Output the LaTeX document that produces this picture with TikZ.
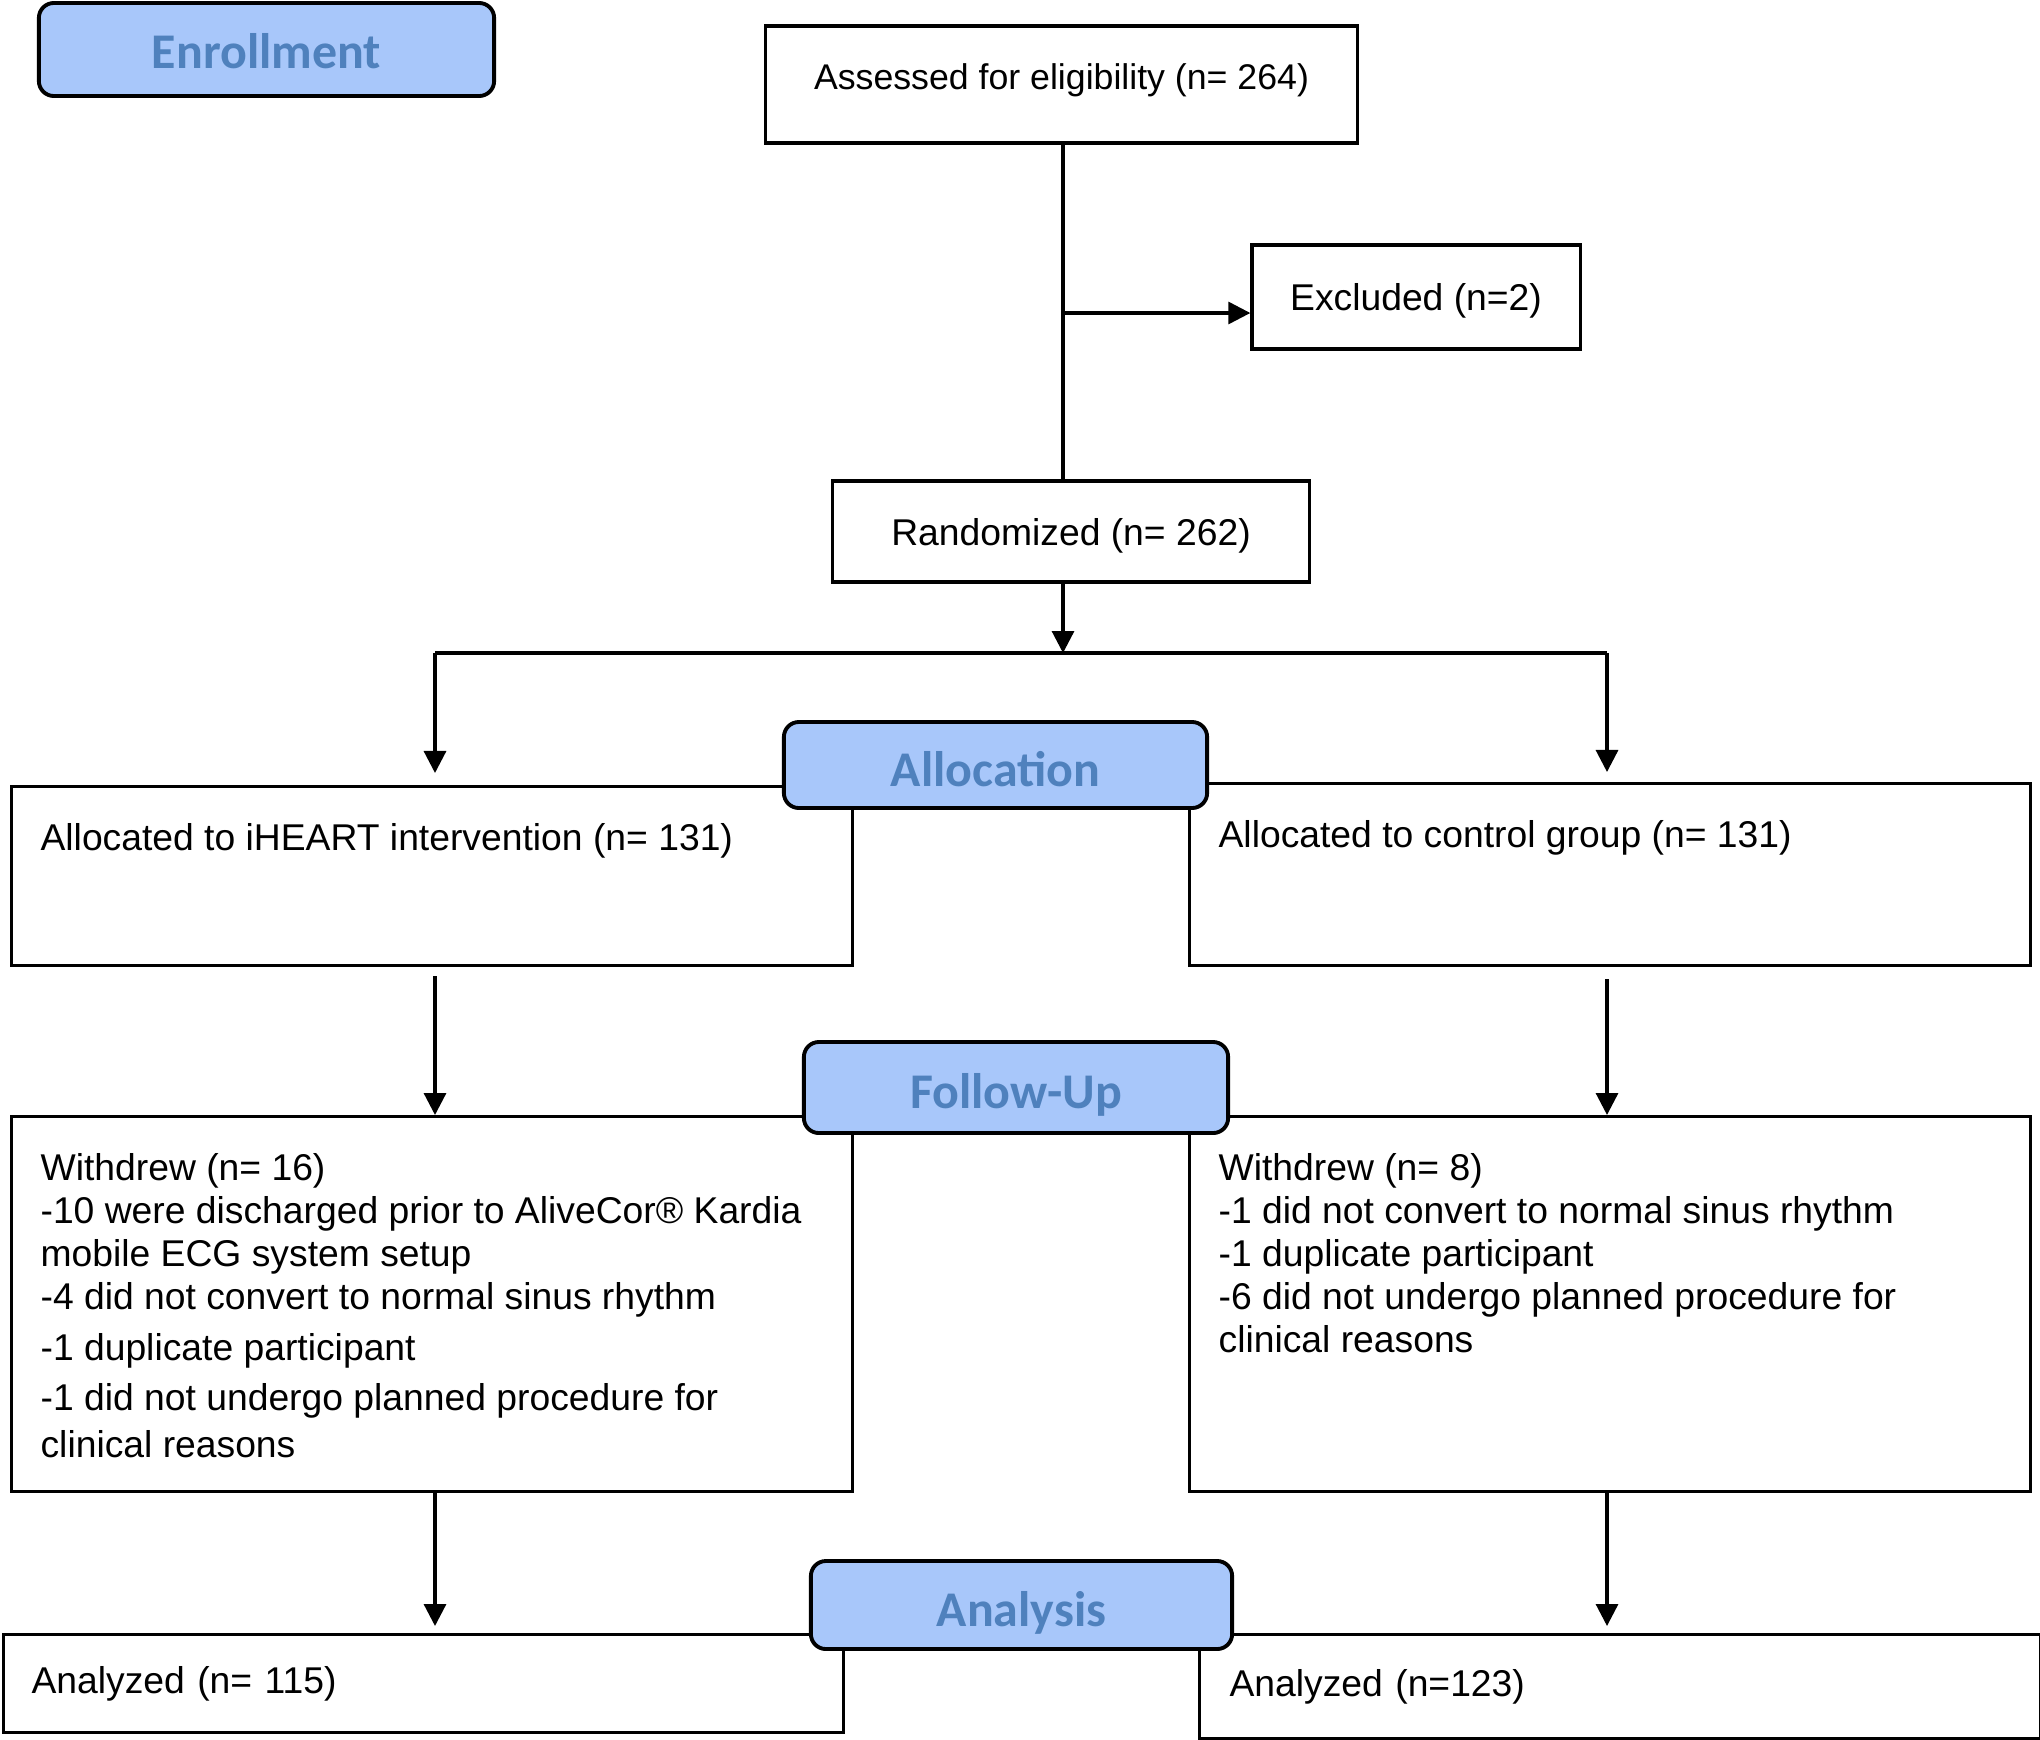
\documentclass[tikz,border=0pt]{standalone}
\usepackage{fontspec}
\setmainfont{Liberation Sans}
\newfontfamily\phasefamily{Carlito}
\usetikzlibrary{arrows.meta}
\definecolor{phasefill}{RGB}{168,199,250}
\definecolor{phasetext}{RGB}{79,129,189}
\newcommand{\toptext}[2]{\parbox[t][#1][t]{7.82cm}{\raggedright\strut #2}}

\begin{document}
\begin{tikzpicture}[x=0.01cm,y=-0.01cm,
  box/.style={draw,line width=0.9pt,inner sep=0pt,font=\fontsize{10.6}{12.2}\selectfont},
  topbox/.style={box,anchor=north west,inner xsep=0.29cm,inner ysep=0.34cm},
  phase/.style={draw,line width=1.1pt,rounded corners=0.15cm,fill=phasefill,text=phasetext,
    text height=0.42cm,text depth=0cm,font=\phasefamily\bfseries\fontsize{14.2}{16}\selectfont},
  arr/.style={line width=0.9pt,-{Triangle[length=0.22cm,width=0.22cm]}}]

  \useasboundingbox (0,0) rectangle (2040,1739);

  \node[box,minimum width=5.91cm,minimum height=1.17cm,text depth=0.15cm,font=\fontsize{10.15}{12}\selectfont] (assess) at (1061.5,84.5) {Assessed for eligibility (n= 264)};
  \node[box,minimum width=3.28cm,minimum height=1.04cm,text depth=0cm] (excl) at (1416,297) {Excluded (n=2)};
  \node[box,minimum width=4.76cm,minimum height=1.01cm,text depth=0cm] (rand) at (1071,531.5) {Randomized (n= 262)};

  \node[topbox] (allocL) at (10,785) {\toptext{1.11cm}{Allocated to iHEART intervention (n= 131)}};
  \node[topbox] (allocR) at (1188,782) {\toptext{1.14cm}{Allocated to control group (n= 131)}};

  \node[topbox] (followL) at (10,1115) {\toptext{3.07cm}{Withdrew (n= 16)\\
    -10 were discharged prior to AliveCor® Kardia\\
    mobile ECG system setup\\
    -4 did not convert to normal sinus rhythm\\[0.08cm]
    -1 duplicate participant\\[0.07cm]
    -1 did not undergo planned procedure for\\[0.04cm]
    clinical reasons}};
  \node[topbox] (followR) at (1188,1115) {\toptext{3.07cm}{Withdrew (n= 8)\\
    -1 did not convert to normal sinus rhythm\\
    -1 duplicate participant\\
    -6 did not undergo planned procedure for\\
    clinical reasons}};

  \node[box,anchor=north west,minimum height=0.98cm,text width=7.83cm,align=left,inner xsep=0.28cm] (anaL) at (2,1633) {Analyzed (n= 115)};
  \node[box,anchor=north west,minimum height=1.04cm,text width=7.80cm,align=left,inner xsep=0.30cm] (anaR) at (1198,1633) {Analyzed (n=123)};

  % phase labels
  \node[phase,minimum width=4.55cm,minimum height=0.93cm,text height=0.37cm] (enrol) at (266.5,49.5) {Enrollment};
  \node[phase,minimum width=4.23cm,minimum height=0.86cm] (alloc) at (995.5,765) {Allocation};
  \node[phase,minimum width=4.24cm,minimum height=0.91cm] (follow) at (1016,1087.5) {Follow-Up};
  \node[phase,minimum width=4.21cm,minimum height=0.88cm] (analysis) at (1021.5,1605) {Analysis};

  \coordinate (exclin) at (1063,313);
  \coordinate (fork) at (1063,653);
  \coordinate (forkL) at (435,653);
  \coordinate (forkR) at (1607,653);

  \draw[line width=0.9pt] (assess.south -| fork) -- (rand.north -| fork);
  \draw[arr] (exclin) -- (exclin -| excl.west);
  \draw[arr] (rand.south -| fork) -- (fork);
  \draw[line width=0.9pt] (forkL) -- (forkR);

  \draw[arr,shorten >=0.12cm] (forkL) -- (forkL |- allocL.north);
  \draw[arr,shorten >=0.1cm] (forkR) -- (forkR |- allocR.north);
  \draw[arr,shorten <=0.09cm] (forkL |- allocL.south) -- (forkL |- followL.north);
  \draw[arr,shorten <=0.12cm] (forkR |- allocR.south) -- (forkR |- followR.north);
  \draw[arr,shorten >=0.07cm] (forkL |- followL.south) -- (forkL |- anaL.north);
  \draw[arr,shorten >=0.07cm] (forkR |- followR.south) -- (forkR |- anaR.north);
\end{tikzpicture}
\end{document}
